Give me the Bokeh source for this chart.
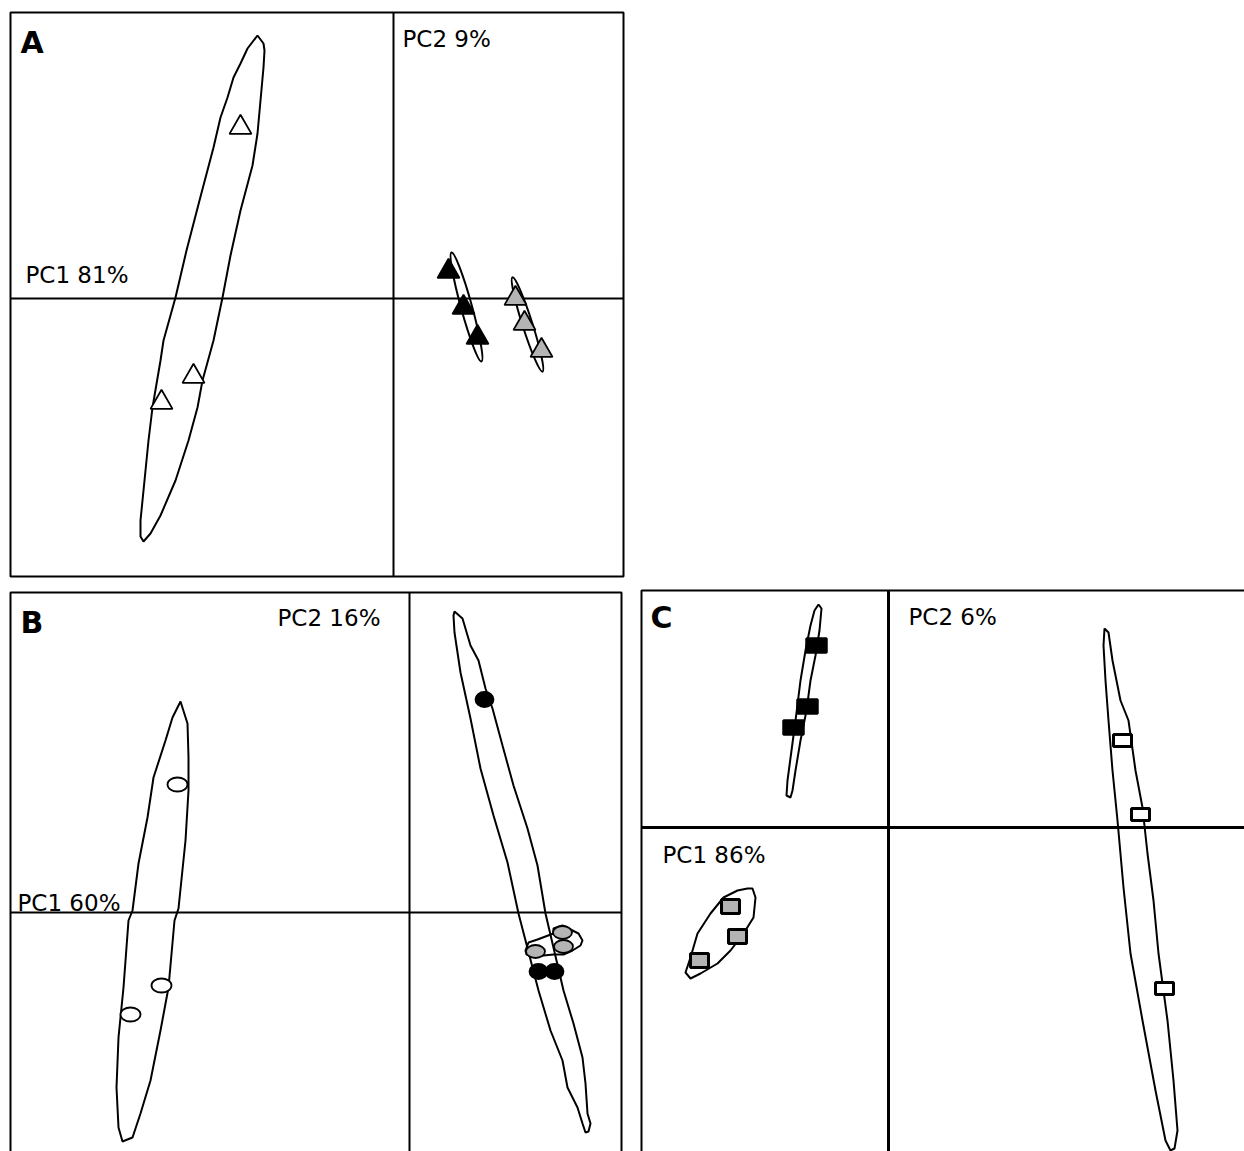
from bokeh.plotting import figure
from bokeh.layouts import column, row
from bokeh.embed import file_html
from bokeh.resources import INLINE
from bokeh.core.properties import value

# ---------------- Panel A (PC1 81%, PC2 9%) ----------------
A_white_x = [-1.53, -2.00, -2.32]
A_white_y = [1.71, -0.78, -1.04]
A_black_x = [0.55, 0.70, 0.84]
A_black_y = [0.27, -0.09, -0.39]
A_grey_x = [1.22, 1.31, 1.48]
A_grey_y = [0.00, -0.25, -0.52]

A_white_hull_x = [-1.36, -1.30, -1.29, -1.30, -1.33, -1.36, -1.41, -1.53, -1.63, -1.71, -1.80,
                  -1.91, -1.96, -2.05, -2.18, -2.33, -2.43, -2.50, -2.53, -2.53, -2.50, -2.45,
                  -2.41, -2.33, -2.30, -2.18, -2.07, -1.94, -1.80, -1.73, -1.66, -1.60, -1.53, -1.46]
A_white_hull_y = [2.63, 2.55, 2.48, 2.31, 1.98, 1.65, 1.33, 0.88, 0.43, 0.01, -0.42,
                  -0.82, -1.09, -1.42, -1.82, -2.17, -2.35, -2.43, -2.38, -2.22, -1.92, -1.42,
                  -1.09, -0.62, -0.42, 0.01, 0.48, 0.98, 1.51, 1.81, 2.01, 2.21, 2.35, 2.50]
# small hulls drawn as ellipses: centre, length, thickness, angle (deg)
A_ell_x = [0.73, 1.34]
A_ell_y = [-0.085, -0.26]
A_ell_len = [1.13, 0.99]
A_ell_thk = [0.11, 0.10]
A_ell_ang = [105.4, 107.7]

# ---------------- Panel B (PC1 60%, PC2 16%) ----------------
B_white_x = [-2.32, -2.48, -2.79]
B_white_y = [1.28, -0.73, -1.02]
B_black_x = [0.75, 1.29, 1.45]
B_black_y = [2.13, -0.59, -0.59]
B_grey_x = [1.53, 1.26, 1.54]
B_grey_y = [-0.20, -0.39, -0.34]

B_white_hull_x = [-2.29, -2.22, -2.21, -2.21, -2.24, -2.31, -2.35, -2.41, -2.49, -2.59, -2.69, -2.77,
                  -2.87, -2.91, -2.93, -2.91, -2.86, -2.81, -2.77, -2.71, -2.62, -2.56, -2.44, -2.37]
B_white_hull_y = [2.11, 1.89, 1.55, 1.22, 0.72, 0.04, -0.08, -0.75, -1.18, -1.68, -2.01, -2.25,
                  -2.29, -2.15, -1.75, -1.25, -0.75, -0.08, 0.02, 0.49, 0.95, 1.35, 1.72, 1.95]
B_black_hull_x = [0.45, 0.53, 0.61, 0.69, 0.76, 0.83, 0.93, 1.04, 1.18, 1.28, 1.36, 1.54, 1.64,
                  1.73, 1.76, 1.78, 1.81, 1.79, 1.76, 1.73, 1.68, 1.58, 1.53, 1.41, 1.29, 1.09,
                  0.98, 0.84, 0.71, 0.61, 0.51, 0.45, 0.44]
B_black_hull_y = [3.01, 2.94, 2.67, 2.52, 2.24, 2.04, 1.67, 1.27, 0.84, 0.47, -0.01, -0.78, -1.11,
                  -1.45, -1.71, -2.01, -2.11, -2.19, -2.20, -2.11, -1.95, -1.75, -1.48, -1.18, -0.78, -0.01,
                  0.50, 0.97, 1.44, 1.94, 2.40, 2.80, 2.97]
B_grey_hull_x = [1.16, 1.19, 1.28, 1.44, 1.44, 1.53, 1.63, 1.69, 1.73, 1.71, 1.63, 1.54, 1.44,
                 1.34, 1.24, 1.17]
B_grey_hull_y = [-0.38, -0.30, -0.27, -0.21, -0.16, -0.13, -0.18, -0.21, -0.28, -0.33, -0.38, -0.42,
                 -0.42, -0.43, -0.44, -0.42]

# ---------------- Panel C (PC1 86%, PC2 6%) ----------------
C_black_x = [-0.72, -0.81, -0.95]
C_black_y = [1.82, 1.21, 1.00]
C_grey_x = [-1.58, -1.51, -1.89]
C_grey_y = [-0.79, -1.09, -1.33]
C_white_x = [2.34, 2.52, 2.76]
C_white_y = [0.87, 0.13, -1.61]

C_black_hull_x = [-0.70, -0.67, -0.69, -0.73, -0.78, -0.82, -0.88, -0.93, -0.96, -0.98, -1.02,
                  -1.01, -0.97, -0.93, -0.88, -0.83, -0.78, -0.74]
C_black_hull_y = [2.23, 2.19, 1.97, 1.72, 1.47, 1.17, 0.87, 0.57, 0.37, 0.30, 0.32,
                  0.47, 0.77, 1.07, 1.47, 1.77, 2.02, 2.17]
C_grey_hull_x = [-1.36, -1.33, -1.35, -1.45, -1.58, -1.71, -1.88, -1.98, -2.03, -1.98, -1.91,
                 -1.78, -1.65, -1.51, -1.41]
C_grey_hull_y = [-0.61, -0.70, -0.90, -1.06, -1.23, -1.36, -1.46, -1.51, -1.45, -1.30, -1.06,
                 -0.86, -0.70, -0.63, -0.61]
C_white_hull_x = [2.16, 2.20, 2.24, 2.32, 2.40, 2.47, 2.54, 2.59, 2.65, 2.70, 2.79, 2.85, 2.89,
                  2.86, 2.82, 2.77, 2.67, 2.54, 2.42, 2.35, 2.29, 2.24, 2.20, 2.17, 2.15]
C_white_hull_y = [1.99, 1.95, 1.67, 1.27, 1.07, 0.57, 0.20, -0.26, -0.73, -1.26, -1.93, -2.53, -3.03,
                  -3.21, -3.23, -3.13, -2.63, -1.93, -1.26, -0.60, 0.07, 0.57, 1.07, 1.47, 1.82]

GREY = "#b4b4b4"
FONT = "DejaVu Sans"
LBL_SIZE = "23px"
LTR_SIZE = "30px"
HULL_W = 2


def make_fig(w, h, xr, yr):
    p = figure(width=w, height=h, x_range=xr, y_range=yr, x_axis_location=None,
               y_axis_location=None, toolbar_location=None, output_backend="svg",
               min_border=0, outline_line_color=None)
    p.grid.visible = False
    p.background_fill_color = "white"
    p.border_fill_color = "white"
    return p


def frame_and_axes(p, left, right, bottom, top, lw):
    p.quad(left=[left], right=[right], bottom=[bottom], top=[top], fill_color=None,
           line_color="black", line_width=2)
    p.segment(x0=[left, 0], y0=[0, bottom], x1=[right, 0], y1=[0, top],
              line_color="black", line_width=lw)


def label(p, x, y, txt, size, bold=False):
    p.text(x=[x], y=[y], text=[txt], text_font=value(FONT), text_font_size=size,
           text_font_style="bold" if bold else "normal", text_baseline="alphabetic",
           text_align="left", text_color="black")


# ----- A -----
pA = make_fig(628, 588, (-3.93, 2.35), (-2.90, 2.98))
frame_and_axes(pA, -3.83, 2.30, -2.78, 2.86, 2)
pA.patch(A_white_hull_x, A_white_hull_y, fill_color=None, line_color="black", line_width=HULL_W)
pA.ellipse(x=A_ell_x, y=A_ell_y, width=A_ell_len, height=A_ell_thk, angle=A_ell_ang,
           angle_units="deg", fill_color=None, line_color="black", line_width=HULL_W)
pA.scatter(A_white_x, A_white_y, marker="triangle", size=22, fill_color="white",
           line_color="black", line_width=1.8)
pA.scatter(A_black_x, A_black_y, marker="triangle", size=22, fill_color="black",
           line_color="black", line_width=1.8)
pA.scatter(A_grey_x, A_grey_y, marker="triangle", size=22, fill_color=GREY,
           line_color="black", line_width=1.8)
label(pA, -3.73, 2.56, "A", LTR_SIZE, bold=True)
label(pA, 0.09, 2.60, "PC2 9%", LBL_SIZE)
label(pA, -3.68, 0.24, "PC1 81%", LBL_SIZE)

# ----- B -----
pB = make_fig(632, 563, (-4.09, 2.23), (-2.39, 3.24))
frame_and_axes(pB, -3.99, 2.12, -2.60, 3.20, 2)
pB.patch(B_white_hull_x, B_white_hull_y, fill_color=None, line_color="black", line_width=HULL_W)
pB.patch(B_black_hull_x, B_black_hull_y, fill_color=None, line_color="black", line_width=HULL_W)
pB.patch(B_grey_hull_x, B_grey_hull_y, fill_color=None, line_color="black", line_width=HULL_W)
pB.ellipse(x=B_white_x, y=B_white_y, width=0.20, height=0.14, fill_color="white",
           line_color="black", line_width=1.8)
pB.ellipse(x=B_black_x, y=B_black_y, width=0.18, height=0.15, fill_color="black",
           line_color="black", line_width=1.8)
pB.ellipse(x=B_grey_x, y=B_grey_y, width=0.19, height=0.13, fill_color=GREY,
           line_color="black", line_width=1.8)
label(pB, -3.89, 2.90, "B", LTR_SIZE, bold=True)
label(pB, -1.32, 2.95, "PC2 16%", LBL_SIZE)
label(pB, -3.92, 0.10, "PC1 60%", LBL_SIZE)

# ----- C -----
pC = make_fig(612, 563, (-2.56, 3.56), (-3.24, 2.39))
frame_and_axes(pC, -2.47, 3.80, -3.50, 2.37, 3)
pC.patch(C_black_hull_x, C_black_hull_y, fill_color=None, line_color="black", line_width=HULL_W)
pC.patch(C_grey_hull_x, C_grey_hull_y, fill_color=None, line_color="black", line_width=HULL_W)
pC.patch(C_white_hull_x, C_white_hull_y, fill_color=None, line_color="black", line_width=HULL_W)
pC.rect(x=C_black_x, y=C_black_y, width=0.20, height=0.14, fill_color="black",
        line_color="black", line_width=2.5)
pC.rect(x=C_grey_x, y=C_grey_y, width=0.18, height=0.14, fill_color=GREY,
        line_color="black", line_width=3)
pC.rect(x=C_white_x, y=C_white_y, width=0.18, height=0.12, fill_color="white",
        line_color="black", line_width=3)
label(pC, -2.38, 2.10, "C", LTR_SIZE, bold=True)
label(pC, 0.20, 2.11, "PC2 6%", LBL_SIZE)
label(pC, -2.26, -0.27, "PC1 86%", LBL_SIZE)

layout = column(pA, row(pB, pC))
open("out.html", "w").write(file_html(layout, INLINE))
